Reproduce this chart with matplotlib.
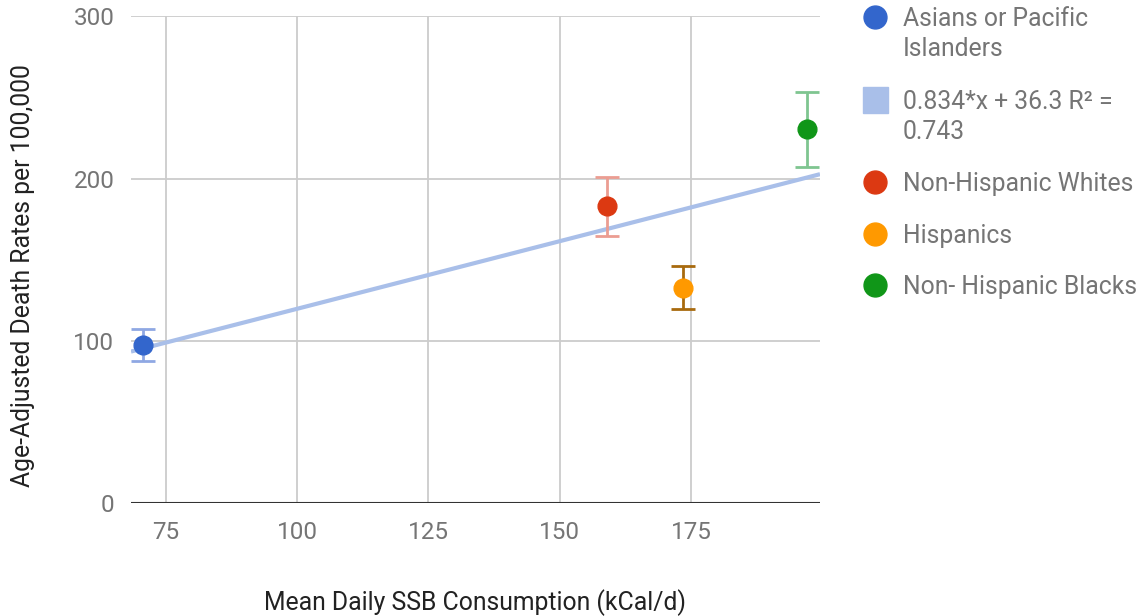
import numpy as np
import matplotlib.pyplot as plt
from matplotlib.lines import Line2D
from matplotlib.patches import Rectangle

plt.rcParams['font.family'] = ['Roboto', 'DejaVu Sans']

groups = ["Asians or Pacific\nIslanders", "Non-Hispanic Whites", "Hispanics", "Non- Hispanic Blacks"]
ssb = [70.7, 158.9, 173.4, 197.0]
rate = [97.5, 182.9, 132.5, 230.7]
err_low = [87.7, 164.6, 119.6, 207.4]
err_high = [107.2, 200.8, 146.1, 253.5]
colors = ["#3366cc", "#dc3912", "#ff9900", "#109618"]
err_colors = ["#8fa8e3", "#eb9d92", "#a86a0e", "#7fc590"]
slope, intercept, r2 = 0.834, 36.3, 0.743
xticks = [75, 100, 125, 150, 175]
yticks = [0, 100, 200, 300]

fig = plt.figure(figsize=(11.42, 6.16), dpi=100)
ax = fig.add_axes([131/1142, 1-503/616, (820-131)/1142, (503-16.3)/616])
xlim = (68.4, 199.5)
ax.set_xlim(*xlim)
ax.set_ylim(0, 300)

# trendline
xs = np.array(xlim)
ax.plot(xs, slope*xs + intercept, color="#a9bfe9", lw=3, zorder=2, solid_capstyle='butt')

for i in range(len(groups)):
    yerr = [[rate[i]-err_low[i]], [err_high[i]-rate[i]]]
    ax.errorbar([ssb[i]], [rate[i]], yerr=yerr, fmt='none', ecolor=err_colors[i],
                elinewidth=2, capsize=8.6, capthick=2, zorder=3)
    ax.plot([ssb[i]], [rate[i]], 'o', color=colors[i], ms=13.5, zorder=4)

ax.set_xticks(xticks)
ax.set_yticks(yticks)
ax.grid(True, color="#cccccc", lw=1.3)
ax.set_axisbelow(True)
for s in ax.spines.values():
    s.set_visible(False)
ax.axhline(0, color="#333333", lw=1.5, zorder=1)
ax.tick_params(length=0, labelsize=17.5, labelcolor="#757575", pad=12)
ax.tick_params(axis='x', pad=13)

ax.set_xlabel("Mean Daily SSB Consumption (kCal/d)", fontsize=17.8, color="#222222")
ax.xaxis.set_label_coords(0.5, -0.176)
ax.set_ylabel("Age-Adjusted Death Rates per 100,000", fontsize=17.8, color="#222222")
ax.yaxis.set_label_coords(-0.14, 0.468)

# legend drawn manually on the right
def fx(px):
    return px/1142
def fy(py):
    return 1 - py/616

entries = [(groups[0], colors[0], 'o', 17),
           ("%.3f*x + %.1f R² =\n%.3f" % (slope, intercept, r2), "#a9bfe9", 's', 100),
           (groups[1], colors[1], 'o', 182),
           (groups[2], colors[2], 'o', 234),
           (groups[3], colors[3], 'o', 285)]
for label, col, mk, py in entries:
    if mk == 'o':
        fig.add_artist(Line2D([fx(875)], [fy(py)], marker='o', color=col, ms=16.5, lw=0,
                              transform=fig.transFigure))
    else:
        fig.add_artist(Rectangle((fx(862.5), fy(py+12.5)), 25/1142, 25/616, color=col,
                                 transform=fig.transFigure))
    for k, line in enumerate(label.split("\n")):
        fig.text(fx(903), fy(py + 8.8 + 30*k), line, fontsize=17.8, color="#757575",
                 va='baseline', transform=fig.transFigure)

fig.savefig("out.png", dpi=100)
